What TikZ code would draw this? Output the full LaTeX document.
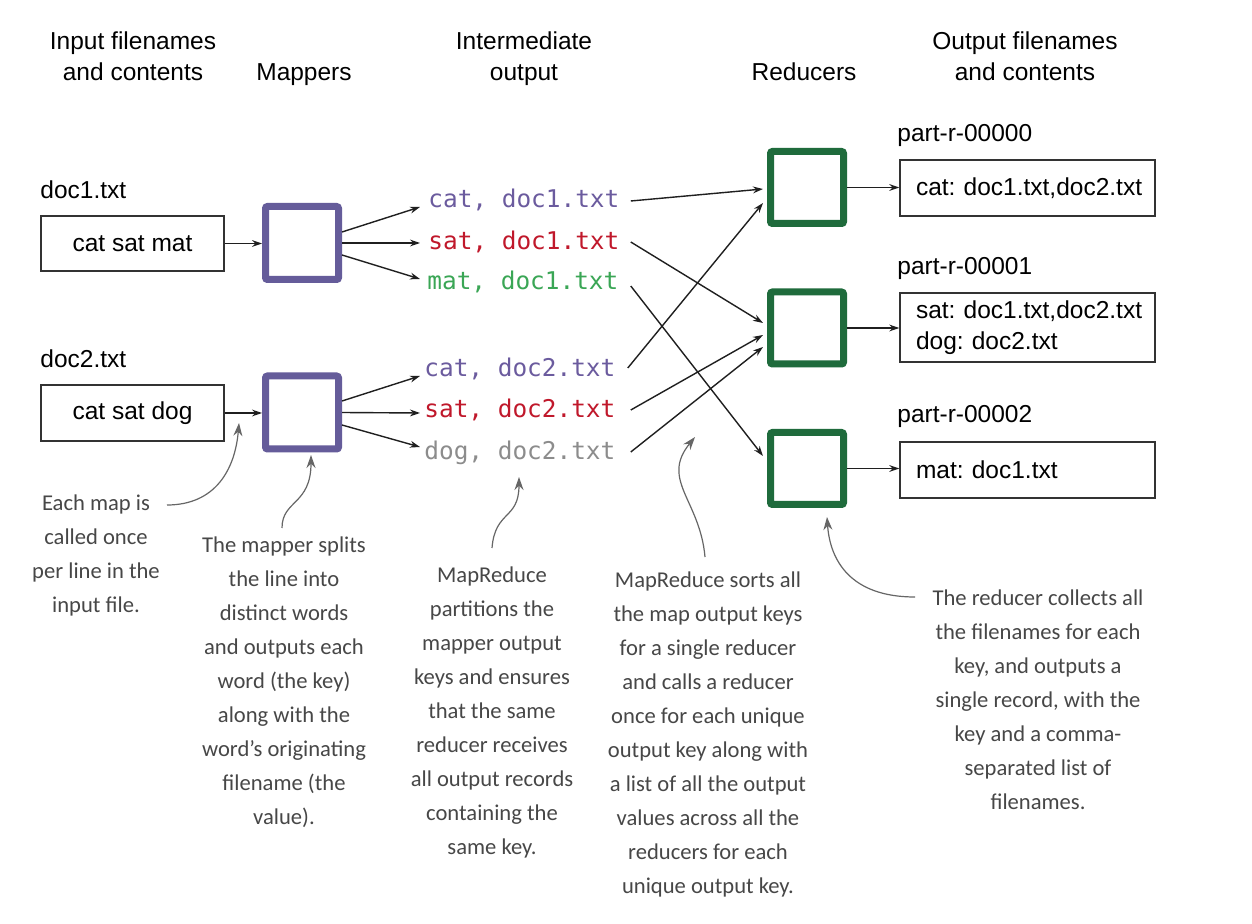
\documentclass[tikz,border=0pt]{standalone}
\usepackage{fontspec}
\setmainfont{Liberation Sans}
\newfontfamily\monofont{DejaVu Sans Mono}
\newfontfamily\handfont{Carlito}
\usetikzlibrary{arrows.meta,calc}
\definecolor{mpurple}{HTML}{655C9A}
\definecolor{rgreen}{HTML}{1F6B3C}
\definecolor{tpurple}{HTML}{6B5B9E}
\definecolor{tred}{HTML}{C0182B}
\definecolor{tgreen}{HTML}{3AA655}
\definecolor{tgray}{HTML}{8C8C8C}
\definecolor{boxgray}{HTML}{333333}
\definecolor{notegray}{HTML}{474747}
\definecolor{callgray}{HTML}{666666}
\frenchspacing
\begin{document}
\begin{tikzpicture}[x=0.5pt,y=-0.5pt,
  hdr/.style={align=center, anchor=north, inner sep=0pt, font=\fontsize{12.25}{15.6}\selectfont},
  lbl/.style={anchor=base west, inner sep=0pt, font=\fontsize{12.25}{15}\selectfont},
  hbase/.style={anchor=base, inner sep=0pt, font=\fontsize{12.25}{15}\selectfont},
  inbox/.style={draw=boxgray, line width=0.75pt, minimum width=91.5pt, minimum height=27.5pt, inner sep=0pt, font=\fontsize{12.25}{15}\selectfont},
  outbox/.style={draw=boxgray, line width=0.75pt, minimum width=127.5pt, minimum height=28pt, inner xsep=8pt, inner ysep=0pt, text width=111.5pt, align=left, font=\fontsize{12.25}{15.5}\selectfont},
  mapper/.style={draw=mpurple, line width=3.5pt, rounded corners=1pt, minimum width=36.5pt, minimum height=36.5pt, inner sep=0pt},
  reducer/.style={draw=rgreen, line width=3.5pt, rounded corners=1pt, minimum width=36.5pt, minimum height=36pt, inner sep=0pt},
  mono/.style={anchor=base west, inner sep=0pt, font=\monofont\fontsize{12.2}{15}\selectfont},
  note/.style={align=center, anchor=north, inner sep=0pt, text=notegray, font=\handfont\fontsize{11.3}{17}\selectfont},
  arr/.style={draw=black!88, line width=0.7pt, -{Stealth[length=5pt,width=3.4pt]}},
  callout/.style={draw=callgray, line width=0.6pt, -{Stealth[length=6.5pt,width=4.5pt]}}
]
\fill[white] (0,0) rectangle (1252,924);
\useasboundingbox (0,0) rectangle (1252,924);

% headers
\node[hdr] (h1) at (133,31) {Input filenames\\and contents};
\node[hbase] (h2) at (304,80.5) {Mappers};
\node[hdr] (h3) at (524,31) {Intermediate\\output};
\node[hbase] (h4) at (804,80.5) {Reducers};
\node[hdr] (h5) at (1025,31) {Output filenames\\and contents};

% inputs
\node[lbl] (l1) at (40,199) {doc1.txt};
\node[lbl] (l2) at (40,368) {doc2.txt};
\node[inbox] (in1) at (132.5,243.5) {cat sat mat};
\node[inbox, minimum height=28pt] (in2) at (132.5,413) {cat sat dog};

% mappers
\node[mapper] (m1) at (302,243) {};
\node[mapper] (m2) at (302,412.5) {};

% intermediate
\node[mono, text=tpurple] (i1) at (428,208) {cat, doc1.txt};
\node[mono, text=tred]    (i2) at (428,250) {sat, doc1.txt};
\node[mono, text=tgreen]  (i3) at (427,290) {mat, doc1.txt};
\node[mono, text=tpurple] (i4) at (424,377) {cat, doc2.txt};
\node[mono, text=tred]    (i5) at (424,418) {sat, doc2.txt};
\node[mono, text=tgray]   (i6) at (424,460) {dog, doc2.txt};

% reducers
\node[reducer] (r1) at (807,187.5) {};
\node[reducer] (r2) at (807,328) {};
\node[reducer] (r3) at (807,468.5) {};

% outputs
\node[lbl] (p1) at (897,142) {part-r-00000};
\node[lbl] (p2) at (897,275) {part-r-00001};
\node[lbl] (p3) at (897,423) {part-r-00002};
\node[outbox] (o1) at (1027.5,188) {cat:~doc1.txt,doc2.txt};
\node[outbox, minimum height=34.5pt] (o2) at (1027.5,327.5) {sat:~doc1.txt,doc2.txt\\dog:~doc2.txt};
\node[outbox] (o3) at (1027.5,470) {mat:~doc1.txt};

% connectors
\draw[arr] (in1.east) -- (in1.east -| m1.west);
\draw[arr] (in2.east) -- (in2.east -| m2.west);

\draw[arr] ($(m1.east)+(0,-11)$) -- ($(i1.base west)+(-8,-1)$);
\draw[arr] (m1.east) -- ($(i2.base west)+(-8,-7)$);
\draw[arr] ($(m1.east)+(0,12)$) -- ($(i3.base west)+(-7,-11)$);
\draw[arr] ($(m2.east)+(0,-11.5)$) -- ($(i4.base west)+(-4,-1)$);
\draw[arr] (m2.east) -- ($(i5.base west)+(-4,-5)$);
\draw[arr] ($(m2.east)+(0,12.5)$) -- ($(i6.base west)+(-4,-13)$);

\draw[arr] ($(i1.base east)+(11,-7)$) -- ($(r1.west)+(-4,1.5)$);
\draw[arr] ($(i2.base east)+(11,-8)$) -- ($(r2.west)+(-4,-5)$);
\draw[arr] ($(i3.base east)+(12,-4)$) -- ($(r3.west)+(-4,-12.5)$);
\draw[arr] ($(i4.base east)+(12,-9)$) -- ($(r1.west)+(-4,15.5)$);
\draw[arr] ($(i5.base east)+(15,-8)$) -- ($(r2.west)+(-4,7)$);
\draw[arr] ($(i6.base east)+(15,-8)$) -- ($(r2.west)+(-4,19)$);

\draw[arr] (r1.east) -- (r1.east -| o1.west);
\draw[arr] (r2.east) -- (r2.east -| o2.west);
\draw[arr] (r3.east) -- (r3.east -| o3.west);

% notes
\node[note] (a1) at (96,494) {Each map is\\called once\\per line in the\\input file.};
\node[note] (a2) at (284,536) {The mapper splits\\the line into\\distinct words\\and outputs each\\word (the key)\\along with the\\word’s originating\\filename (the\\value).};
\node[note] (a3) at (492,566) {MapReduce\\partitions the\\mapper output\\keys and ensures\\that the same\\reducer receives\\all output records\\containing the\\same key.};
\node[note] (a4) at (708,571) {MapReduce sorts all\\the map output keys\\for a single reducer\\and calls a reducer\\once for each unique\\output key along with\\a list of all the output\\values across all the\\reducers for each\\unique output key.};
\node[note] (a5) at (1038,589) {The reducer collects all\\the filenames for each\\key, and outputs a\\single record, with the\\key and a comma-\\separated list of\\filenames.};

\coordinate (t1) at (239,423);
\coordinate (t2) at (311,455);
\coordinate (t3) at (519,477);
\coordinate (t4) at (695,437);
\coordinate (t5) at (827,517);

\draw[callout] ($(a1.north)+(71,11)$) .. controls +(48,0) and +(-4,47) .. (t1);
\draw[callout] ($(a2.north)+(-2,-8)$) .. controls +(0,-28) and +(0,50) .. (t2);
\draw[callout] ($(a3.north)+(0,-18)$) .. controls +(3,-38) and +(0,43) .. (t3);
\draw[callout] ($(a4.north)+(-3,-14)$) .. controls +(-5,-57) and +(-35,43) .. (t4);
\draw[callout] ($(a5.north)+(-123,8)$) .. controls +(-65,0) and +(3,43) .. (t5);
\end{tikzpicture}
\end{document}
